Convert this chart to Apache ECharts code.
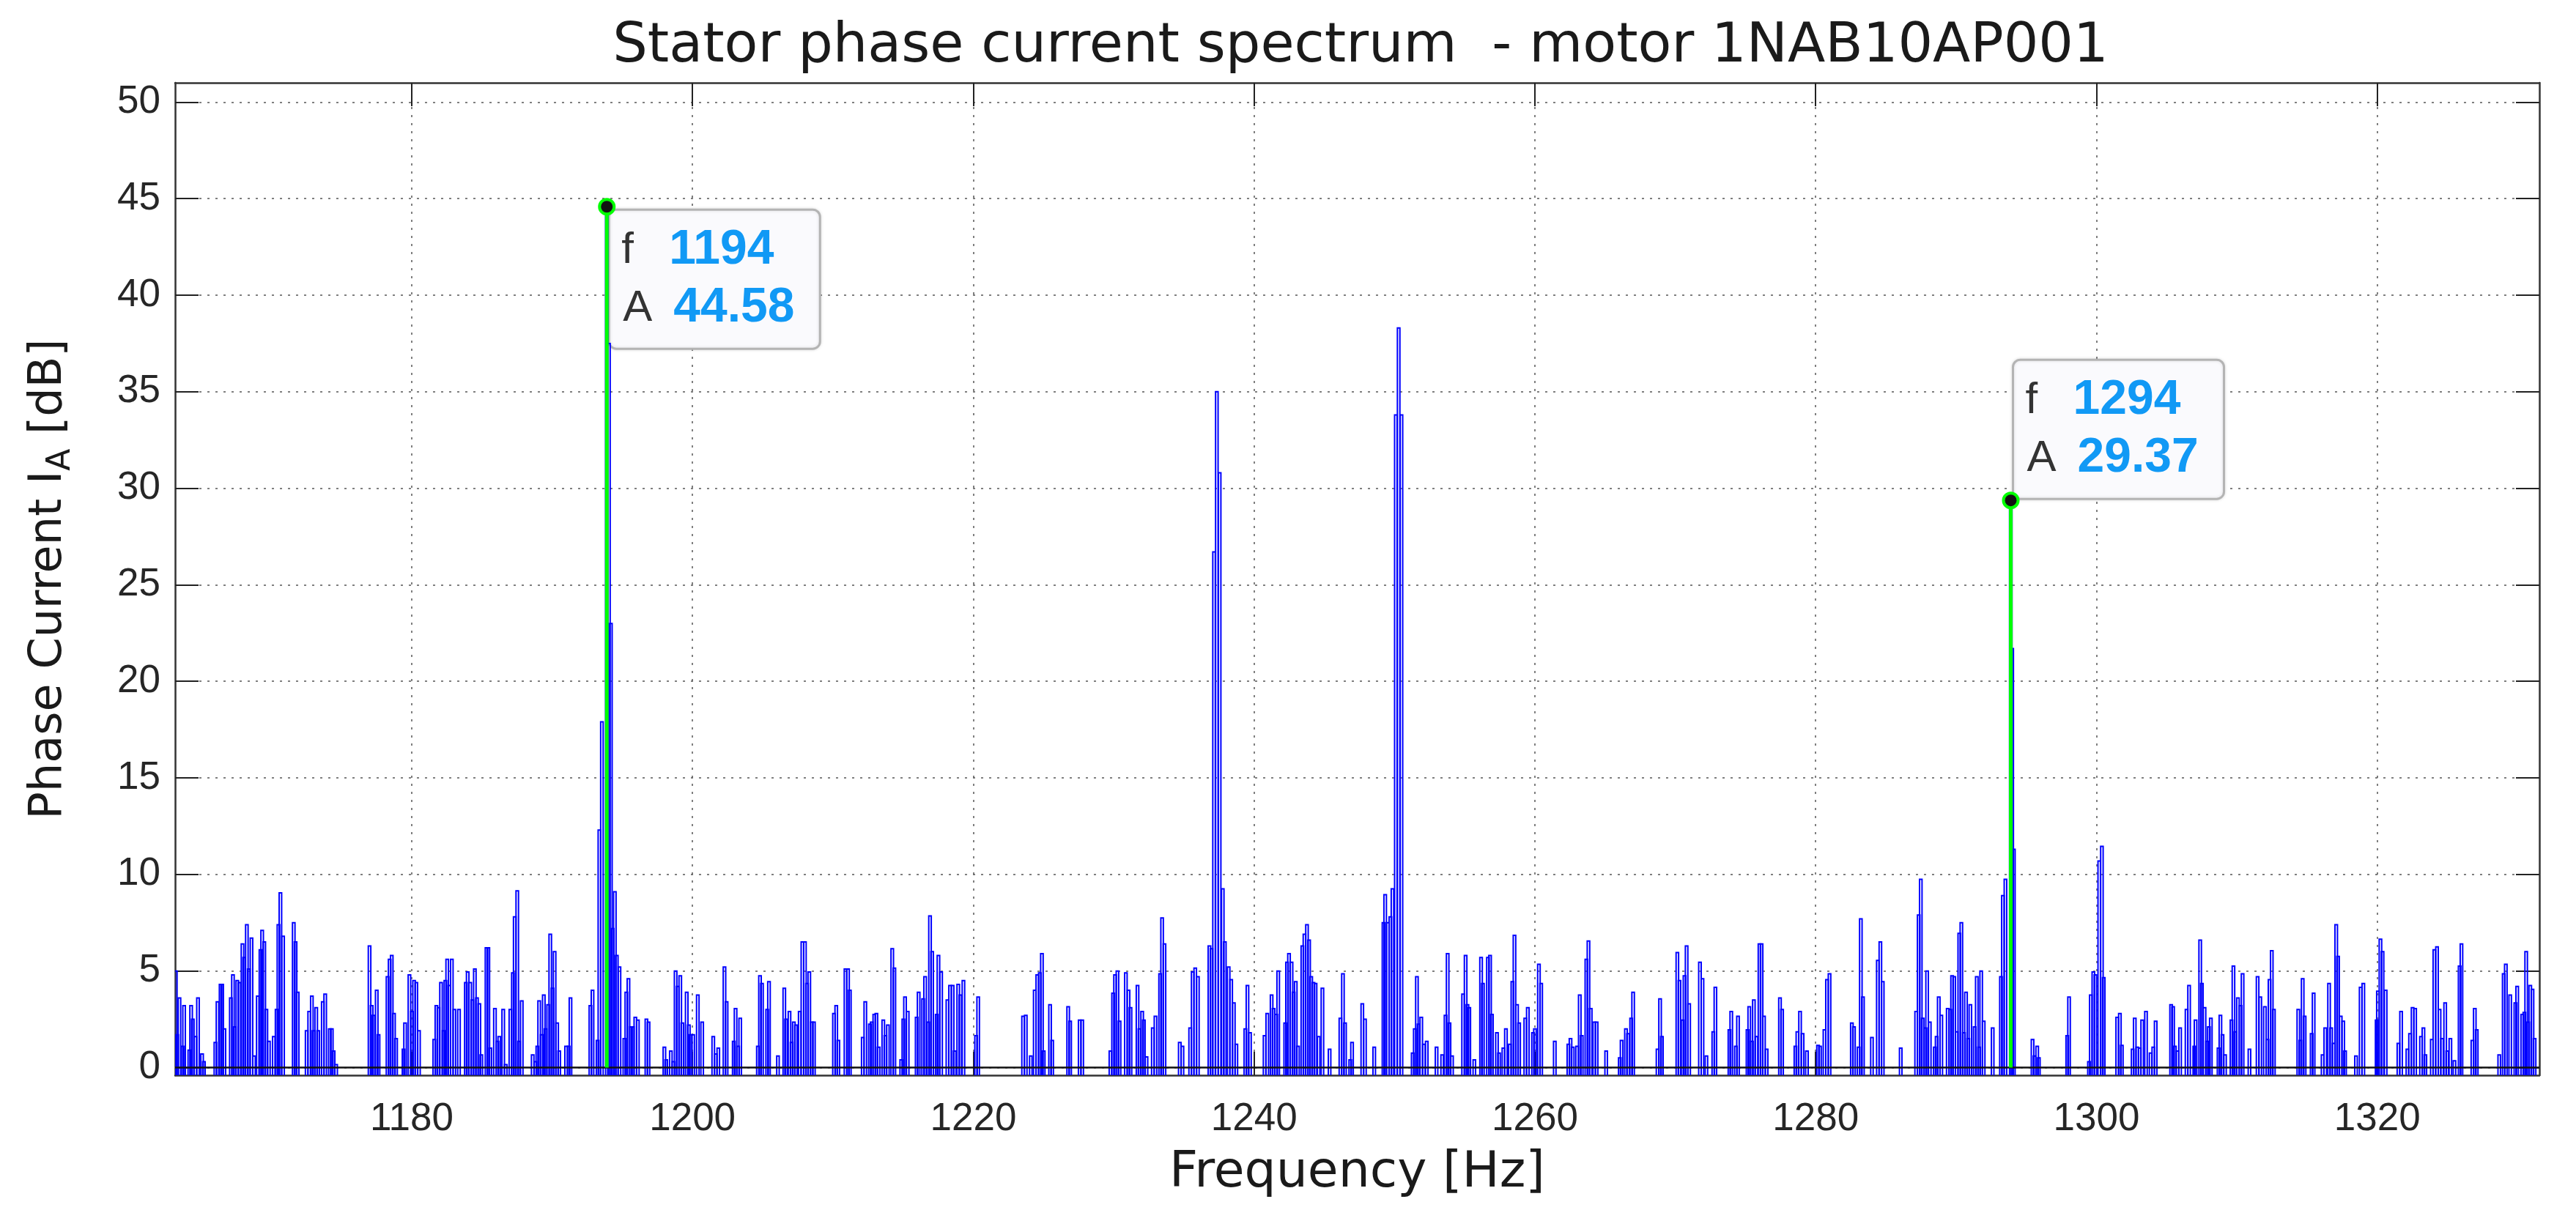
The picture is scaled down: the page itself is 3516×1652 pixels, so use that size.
<!DOCTYPE html>
<html>
<head>
<meta charset="utf-8">
<title>Stator phase current spectrum</title>
<script src="https://cdn.jsdelivr.net/npm/echarts@6.0.0/dist/echarts.min.js"></script>
<style>
  html, body { margin: 0; padding: 0; background: #fff; }
  #chart { width: 3516px; height: 1652px; }
</style>
</head>
<body>
<div id="chart"></div>
<script>
// spectrum lines, [Hz, dB], one band per ~28 Hz
var band1 = [
  [1163.2, 5.0], [1163.3, 1.7], [1163.46, 3.6], [1163.68, 1.1], [1163.79, 3.2], [1164.16, 0.9], [1164.29, 3.2],
  [1164.41, 2.5], [1164.6, 1.6], [1164.78, 3.6], [1165.07, 0.7], [1165.2, 0.3], [1166.02, 1.3], [1166.17, 3.4],
  [1166.39, 4.3], [1166.5, 4.3], [1166.66, 2.0], [1167.12, 3.6], [1167.27, 4.8], [1167.4, 2.1], [1167.58, 4.5],
  [1167.73, 4.4], [1167.95, 6.4], [1168.07, 5.7], [1168.26, 7.4], [1168.4, 5.1], [1168.59, 6.7], [1168.77, 0.6],
  [1169.04, 3.7], [1169.23, 6.1], [1169.35, 7.1], [1169.5, 6.5], [1169.65, 3.0], [1169.83, 1.35], [1170.18, 1.6],
  [1170.38, 3.0], [1170.51, 7.4], [1170.65, 9.05], [1170.84, 6.8], [1171.6, 7.5], [1171.73, 6.5], [1171.88, 3.9],
  [1172.52, 1.9], [1172.7, 2.9], [1172.89, 3.7], [1173.01, 1.9], [1173.2, 3.1], [1173.34, 1.9], [1173.67, 3.4],
  [1173.84, 3.8], [1174.17, 2.0], [1174.31, 2.0], [1174.44, 0.85], [1174.62, 0.15], [1177.0, 6.3], [1177.15, 3.2],
  [1177.28, 2.7], [1177.51, 4.0], [1177.64, 1.7], [1178.28, 4.7], [1178.43, 5.6], [1178.58, 5.8], [1178.74, 2.8],
  [1178.89, 1.5], [1179.42, 0.95], [1179.53, 2.3], [1179.84, 4.8], [1180.02, 2.9], [1180.17, 4.5], [1180.33, 4.4],
  [1180.52, 1.9], [1181.61, 1.45], [1181.76, 3.2], [1181.91, 3.1], [1182.09, 4.4], [1182.27, 1.9], [1182.4, 4.5],
  [1182.53, 5.6], [1182.68, 4.25], [1182.86, 5.6], [1183.04, 3.0], [1183.37, 3.0], [1183.86, 4.4], [1183.99, 4.95],
  [1184.17, 4.4], [1184.32, 3.5], [1184.5, 5.1], [1184.65, 3.6], [1184.82, 3.3], [1184.96, 0.65], [1185.33, 6.2],
  [1185.46, 6.2], [1185.6, 1.0], [1185.93, 3.05], [1186.11, 1.35], [1186.24, 1.6], [1186.52, 3.0], [1186.7, 0.15],
  [1187.03, 3.0], [1187.21, 4.9], [1187.34, 7.8], [1187.52, 9.15], [1187.65, 1.35], [1187.84, 3.45], [1188.62, 0.65],
  [1188.81, 0.3], [1188.95, 1.1], [1189.08, 3.45], [1189.26, 1.7], [1189.41, 3.75], [1189.54, 2.0], [1189.72, 3.25],
  [1189.87, 6.9], [1190.03, 4.1], [1190.18, 6.0], [1190.36, 2.3], [1190.51, 0.85], [1191.0, 1.1], [1191.18, 1.1],
  [1191.31, 3.6]
];
var band2 = [
  [1192.73, 3.2], [1192.88, 4.0], [1193.24, 1.4], [1193.37, 12.3], [1193.55, 17.9], [1193.9, 44.58], [1194.05, 37.5],
  [1194.19, 23.0], [1194.32, 7.2], [1194.47, 9.1], [1194.61, 5.8], [1194.8, 5.2], [1195.15, 1.5], [1195.29, 3.9],
  [1195.44, 4.6], [1195.62, 2.1], [1195.75, 2.1], [1195.93, 2.6], [1196.11, 2.45], [1196.72, 2.5], [1196.87, 2.35],
  [1198.0, 1.05], [1198.13, 0.4], [1198.46, 0.85], [1198.64, 0.3], [1198.8, 5.0], [1198.95, 4.2], [1199.13, 4.75],
  [1199.28, 2.3], [1199.59, 3.9], [1199.74, 2.2], [1199.87, 1.7], [1200.05, 1.7], [1200.38, 3.75], [1200.69, 2.35],
  [1201.48, 1.6], [1201.66, 0.7], [1201.84, 1.0], [1202.28, 5.2], [1202.43, 3.4], [1202.94, 1.35], [1203.07, 3.05],
  [1203.25, 1.1], [1203.4, 2.55], [1204.66, 1.1], [1204.81, 4.75], [1204.95, 4.35], [1205.32, 3.0], [1205.45, 4.45],
  [1206.09, 0.6], [1206.54, 4.1], [1206.67, 2.5], [1206.91, 2.9], [1207.06, 1.3], [1207.22, 2.35], [1207.37, 2.2],
  [1207.64, 2.9], [1207.83, 6.5], [1208.01, 6.5], [1208.16, 4.35], [1208.32, 4.95], [1208.5, 2.35], [1208.65, 2.35],
  [1210.08, 2.8], [1210.24, 3.2], [1210.39, 1.4], [1210.9, 5.1], [1211.08, 5.1], [1211.21, 4.0], [1212.13, 1.55],
  [1212.31, 3.4], [1212.64, 2.25], [1212.77, 2.35], [1212.95, 2.75], [1213.1, 2.8], [1213.26, 1.05], [1213.59, 2.45],
  [1213.74, 1.65], [1213.92, 2.2], [1214.23, 6.15], [1214.38, 5.15], [1214.87, 0.4], [1215.02, 2.5], [1215.14, 3.65],
  [1215.33, 2.9], [1215.97, 2.6], [1216.11, 3.9], [1216.43, 3.55], [1216.57, 4.7], [1216.79, 2.35], [1216.92, 7.85],
  [1217.07, 6.0], [1217.4, 2.75], [1217.52, 5.8], [1217.71, 4.95], [1218.16, 3.5], [1218.35, 4.25], [1218.53, 4.25],
  [1218.68, 0.85], [1218.93, 4.3], [1219.08, 3.75], [1219.3, 4.5]
];
var band3 = [
  [1220.2, 1.65], [1220.35, 3.65], [1223.55, 2.65], [1223.74, 2.7], [1224.1, 0.6], [1224.38, 4.0], [1224.56, 4.8],
  [1224.74, 4.9], [1224.89, 5.9], [1225.02, 0.85], [1225.47, 3.25], [1225.62, 1.4], [1226.76, 3.15], [1226.9, 2.4],
  [1227.58, 2.45], [1227.76, 2.45], [1229.77, 0.85], [1229.96, 3.85], [1230.1, 4.8], [1230.27, 5.0], [1230.42, 2.4],
  [1230.87, 4.9], [1231.06, 4.0], [1231.2, 3.1], [1231.7, 4.25], [1231.84, 2.0], [1232.03, 2.9], [1232.15, 2.45],
  [1232.34, 0.55], [1232.79, 2.05], [1232.98, 2.65], [1233.31, 4.85], [1233.45, 7.75], [1233.62, 6.4], [1234.71, 1.3],
  [1234.9, 1.1], [1235.45, 2.05], [1235.63, 4.95], [1235.81, 5.15], [1236.0, 4.7], [1236.82, 6.3], [1236.97, 6.15],
  [1237.15, 26.7], [1237.35, 35.0], [1237.55, 30.8], [1237.77, 9.25], [1237.92, 6.5], [1238.19, 5.2], [1238.37, 4.55],
  [1238.56, 3.35], [1238.74, 1.2], [1239.38, 2.0], [1239.53, 4.25], [1239.71, 1.8], [1240.75, 1.65], [1240.94, 2.8],
  [1241.25, 3.75], [1241.39, 3.05], [1241.58, 2.75], [1241.72, 5.0], [1242.22, 2.3], [1242.35, 5.45], [1242.49, 5.9],
  [1242.67, 5.45], [1242.82, 3.9], [1242.97, 4.45], [1243.13, 1.1], [1243.44, 6.3], [1243.59, 6.9], [1243.77, 7.4],
  [1243.92, 6.6], [1244.07, 4.7], [1244.23, 4.4], [1244.38, 4.35], [1244.6, 1.6], [1244.87, 4.1], [1245.38, 0.95],
  [1246.15, 2.55], [1246.33, 4.85], [1246.48, 2.3], [1246.85, 0.4], [1246.98, 1.3], [1247.71, 3.3]
];
var band4 = [
  [1247.9, 2.5], [1248.56, 1.05], [1249.22, 7.5], [1249.34, 8.95], [1249.53, 7.5], [1249.71, 7.8], [1249.86, 9.25],
  [1250.1, 33.8], [1250.3, 38.3], [1250.5, 33.8], [1251.3, 0.75], [1251.45, 2.0], [1251.6, 4.7], [1251.72, 2.25],
  [1251.91, 2.6], [1252.1, 1.2], [1252.3, 1.35], [1253.0, 1.05], [1253.4, 0.65], [1253.64, 2.7], [1253.79, 5.9],
  [1253.92, 2.3], [1254.1, 0.6], [1254.89, 3.8], [1255.07, 5.8], [1255.2, 3.25], [1255.33, 3.1], [1255.69, 0.4],
  [1256.17, 5.7], [1256.3, 4.35], [1256.66, 5.7], [1256.81, 5.8], [1256.94, 2.75], [1257.3, 1.8], [1257.45, 0.75],
  [1257.76, 1.0], [1257.94, 2.0], [1258.22, 1.2], [1258.4, 4.45], [1258.55, 6.85], [1258.73, 3.25], [1258.88, 2.3],
  [1259.32, 2.55], [1259.5, 3.1], [1259.87, 1.8], [1260.01, 2.0], [1260.29, 5.35], [1260.45, 4.35], [1261.42, 1.35],
  [1262.39, 1.2], [1262.54, 1.5], [1262.7, 1.05], [1263.01, 1.1], [1263.2, 3.75], [1263.34, 1.65], [1263.67, 5.6],
  [1263.82, 6.55], [1263.98, 3.05], [1264.23, 2.35], [1264.4, 2.35], [1265.08, 0.85], [1266.05, 0.5], [1266.18, 1.4],
  [1266.49, 2.0], [1266.64, 1.75], [1266.86, 2.55], [1267.0, 3.9], [1268.74, 0.95], [1268.92, 3.55], [1269.05, 1.6],
  [1270.15, 5.95], [1270.3, 4.5], [1270.52, 2.45], [1270.66, 4.75], [1270.81, 6.3], [1270.99, 3.3], [1271.76, 5.45],
  [1271.94, 4.6], [1272.22, 0.6], [1272.71, 1.85], [1272.86, 4.15], [1273.86, 1.95], [1273.99, 2.9], [1274.32, 1.1],
  [1274.47, 2.65], [1275.15, 1.95], [1275.27, 3.15], [1275.46, 1.35], [1275.6, 3.5], [1275.79, 1.6]
];
var band5 = [
  [1276.0, 6.4], [1276.15, 6.4], [1276.32, 2.65], [1276.51, 0.95], [1277.46, 3.6], [1277.61, 3.0], [1278.56, 1.1],
  [1278.7, 1.85], [1278.89, 2.9], [1279.07, 1.75], [1279.38, 0.85], [1280.17, 1.15], [1280.31, 1.1], [1280.63, 1.95],
  [1280.81, 4.55], [1280.99, 4.85], [1282.58, 2.3], [1282.73, 2.1], [1283.06, 1.05], [1283.22, 7.7], [1283.37, 3.65],
  [1284.01, 1.55], [1284.43, 5.55], [1284.61, 6.5], [1284.78, 4.45], [1286.06, 1.0], [1287.16, 2.9], [1287.34, 7.9],
  [1287.49, 9.75], [1287.63, 2.55], [1287.82, 2.05], [1287.94, 5.0], [1288.13, 2.35], [1288.49, 1.05], [1288.62, 1.6],
  [1288.77, 3.65], [1288.95, 2.7], [1289.41, 3.05], [1289.59, 3.0], [1289.72, 4.75], [1289.87, 4.7], [1290.05, 1.85],
  [1290.23, 6.95], [1290.38, 7.5], [1290.56, 1.8], [1290.71, 3.9], [1290.87, 1.5], [1291.02, 3.25], [1291.33, 2.1],
  [1291.48, 4.7], [1291.64, 1.05], [1291.79, 5.0], [1291.97, 2.4], [1292.61, 2.05], [1293.2, 4.7], [1293.34, 8.9],
  [1293.52, 9.75], [1293.9, 29.37], [1294.0, 21.7], [1294.12, 11.3], [1295.45, 1.45], [1295.59, 0.6], [1295.78, 1.1],
  [1295.9, 0.5], [1297.92, 1.65], [1298.05, 3.65], [1299.47, 0.3], [1299.6, 3.75], [1299.78, 4.95], [1299.93, 4.8],
  [1300.2, 10.7], [1300.39, 11.45], [1300.52, 4.65], [1301.48, 2.6], [1301.67, 2.8], [1301.81, 1.15], [1302.58, 0.95],
  [1302.73, 2.55], [1302.91, 1.05], [1303.08, 1.0], [1303.26, 2.45], [1303.53, 2.9], [1303.86, 0.75], [1304.05, 1.05]
];
var band6 = [
  [1304.22, 2.4], [1305.32, 3.25], [1305.46, 3.15], [1305.59, 1.1], [1305.78, 0.85], [1305.96, 2.05], [1306.42, 3.0],
  [1306.6, 4.25], [1306.97, 1.1], [1307.06, 2.45], [1307.39, 6.6], [1307.51, 4.35], [1307.7, 3.1], [1307.88, 1.35],
  [1308.01, 2.1], [1308.15, 2.55], [1308.7, 1.0], [1308.83, 2.7], [1308.98, 1.7], [1309.16, 0.65], [1309.62, 2.45],
  [1309.76, 5.25], [1309.89, 1.85], [1310.08, 3.6], [1310.26, 3.2], [1310.41, 4.85], [1310.9, 0.95], [1311.48, 4.7],
  [1311.67, 3.65], [1312.0, 3.15], [1312.18, 1.45], [1312.33, 4.55], [1312.49, 6.05], [1312.64, 3.0], [1314.38, 3.0],
  [1314.52, 1.4], [1314.69, 4.6], [1314.83, 2.65], [1315.33, 1.75], [1315.47, 3.85], [1316.11, 0.65], [1316.3, 2.05],
  [1316.57, 4.35], [1316.72, 2.05], [1316.9, 1.25], [1317.08, 7.4], [1317.21, 5.75], [1317.4, 2.65], [1317.58, 2.4],
  [1317.71, 0.85], [1318.49, 0.6], [1318.82, 4.15], [1319.01, 4.35], [1319.96, 2.45], [1320.05, 3.95], [1320.23, 6.65],
  [1320.38, 6.0], [1320.6, 4.0], [1321.51, 1.25], [1321.7, 2.9], [1322.15, 0.95], [1322.34, 1.75], [1322.52, 3.1],
  [1322.7, 3.05], [1323.12, 1.6], [1323.29, 2.05], [1323.43, 0.65], [1323.89, 1.45], [1324.07, 6.1], [1324.26, 6.25],
  [1324.44, 3.0], [1324.62, 1.5], [1324.84, 3.35], [1324.99, 0.85], [1325.21, 1.5], [1325.5, 0.35], [1325.87, 5.25],
  [1326.0, 6.4], [1326.78, 1.4], [1326.95, 3.05], [1327.09, 1.95], [1328.69, 0.65], [1329.01, 4.85], [1329.16, 5.35],
  [1329.47, 3.75], [1329.84, 3.35], [1329.97, 4.2], [1330.33, 2.75], [1330.48, 2.85], [1330.61, 6.0], [1330.75, 2.35],
  [1330.9, 4.25], [1331.06, 4.05], [1331.21, 1.5]
];

// data cursors
var tipHz = [1193.9, 1293.9];
var tipDb = [44.58, 29.37];
var tipLabelHz = ['1194', '1294'];
var tipLabelDb = ['44.58', '29.37'];

var xTicks = [1180, 1200, 1220, 1240, 1260, 1280, 1300, 1320];
var yTicks = [0, 5, 10, 15, 20, 25, 30, 35, 40, 45, 50];

var xMin = 1163.15, xMax = 1331.55;
var yMin = -0.4, yMax = 51;

var spikes = band1.concat(band2, band3, band4, band5, band6);

var chart = echarts.init(document.getElementById('chart'));

function drawSpike(params, api) {
  var top = api.coord([api.value(0), api.value(1)]);
  var foot = api.coord([api.value(0), yMin]);
  var half = 1.7;
  return {
    type: 'polyline',
    shape: {
      points: [[top[0] - half, foot[1]], [top[0] - half, top[1]], [top[0] + half, top[1]], [top[0] + half, foot[1]]]
    },
    style: { stroke: '#0000ff', lineWidth: 2, fill: 'none' }
  };
}

function plainNumber(v) {
  return String(v);
}

var gridDots = { color: '#555', width: 1.5, type: [3, 8] };
var tickStyle = { inside: true, length: 32, lineStyle: { color: '#222', width: 2 } };
var axisLineStyle = { show: true, onZero: false, lineStyle: { color: '#333', width: 2.5 } };
var fontTitle = 'DejaVu Sans';

var stems = tipHz.map(function (f, i) {
  var s = {
    type: 'line',
    z: 5,
    silent: true,
    data: [{ value: [f, 0], symbol: 'none' }, { value: [f, tipDb[i]] }],
    symbol: 'circle',
    symbolSize: 20,
    showSymbol: true,
    lineStyle: { color: '#00ff00', width: 5 },
    itemStyle: { color: '#111', borderColor: '#00ff00', borderWidth: 4 }
  };
  if (i === 0) {
    // zero line of the spectrum
    s.markLine = {
      silent: true,
      symbol: 'none',
      label: { show: false },
      lineStyle: { color: '#111', width: 2.5, type: 'solid' },
      data: [{ yAxis: 0 }]
    };
  }
  return s;
});

var option = {
  animation: false,
  backgroundColor: '#fff',
  title: {
    text: 'Stator phase current spectrum  - motor 1NAB10AP001',
    left: 1852,
    top: 22,
    textAlign: 'center',
    textStyle: { fontFamily: fontTitle, fontSize: 75, fontWeight: 'normal', color: '#1a1a1a' }
  },
  grid: { left: 239, right: 50, top: 113, bottom: 184, outerBoundsMode: 'none' },
  xAxis: [{
    type: 'value',
    min: xMin,
    max: xMax,
    name: 'Frequency [Hz]',
    nameLocation: 'middle',
    nameGap: 100,
    nameTextStyle: { fontFamily: fontTitle, fontSize: 68, color: '#1a1a1a' },
    axisLine: axisLineStyle,
    axisTick: Object.assign({ customValues: xTicks }, tickStyle),
    axisLabel: { customValues: xTicks, formatter: plainNumber, margin: 34, fontFamily: 'Liberation Sans', fontSize: 53, color: '#262626' },
    splitLine: { show: true, lineStyle: gridDots }
  }, {
    type: 'value',
    position: 'top',
    min: xMin,
    max: xMax,
    axisLine: axisLineStyle,
    axisTick: Object.assign({ customValues: xTicks }, tickStyle),
    axisLabel: { show: false, customValues: xTicks },
    splitLine: { show: false }
  }],
  yAxis: [{
    type: 'value',
    min: yMin,
    max: yMax,
    name: '{n|Phase Current I}{s|A}{n| [dB]}',
    nameLocation: 'middle',
    nameGap: 133,
    nameTextStyle: {
      fontFamily: fontTitle,
      color: '#1a1a1a',
      rich: {
        n: { fontFamily: fontTitle, fontSize: 62, lineHeight: 70, verticalAlign: 'top', color: '#1a1a1a' },
        s: { fontFamily: fontTitle, fontSize: 44, lineHeight: 50, padding: [30, 0, 0, 0], verticalAlign: 'bottom', color: '#1a1a1a' }
      }
    },
    axisLine: axisLineStyle,
    axisTick: Object.assign({ customValues: yTicks }, tickStyle),
    axisLabel: { customValues: yTicks, formatter: plainNumber, margin: 20, fontFamily: 'Liberation Sans', fontSize: 53, color: '#262626' },
    splitLine: { show: true, lineStyle: gridDots }
  }, {
    type: 'value',
    position: 'right',
    min: yMin,
    max: yMax,
    axisLine: axisLineStyle,
    axisTick: Object.assign({ customValues: yTicks }, tickStyle),
    axisLabel: { show: false, customValues: yTicks },
    splitLine: { show: false }
  }],
  series: [{
    type: 'custom',
    z: 2,
    silent: true,
    clip: true,
    renderItem: drawSpike,
    encode: { x: 0, y: 1 },
    data: spikes
  }].concat(stems)
};

chart.setOption(option);

// data tip boxes, placed from the cursor points
function makeTip(f, i) {
  var p = chart.convertToPixel({ gridIndex: 0 }, [f, tipDb[i]]);
  var w = 288, h = 190;
  var boxY = i === 0 ? p[1] + 4 : p[1] - 2 - h;
  var keyFont = '60px "Liberation Sans"';
  var valFont = 'bold 66px "Liberation Sans"';
  return {
    type: 'group',
    x: p[0] + 3,
    y: boxY,
    z: 100,
    silent: true,
    children: [
      {
        type: 'rect',
        shape: { x: 0, y: 0, width: w, height: h, r: 10 },
        style: { fill: '#fafafd', stroke: '#b4b4b4', lineWidth: 3, shadowBlur: 4, shadowColor: 'rgba(0,0,0,0.12)' }
      },
      { type: 'text', x: 17, y: 56, style: { text: 'f', font: keyFont, fill: '#333', textAlign: 'left', textVerticalAlign: 'middle', align: 'left', verticalAlign: 'middle' } },
      { type: 'text', x: 82, y: 56, style: { text: tipLabelHz[i], font: valFont, fill: '#1199f5', textAlign: 'left', textVerticalAlign: 'middle', align: 'left', verticalAlign: 'middle' } },
      { type: 'text', x: 19, y: 135, style: { text: 'A', font: keyFont, fill: '#333', textAlign: 'left', textVerticalAlign: 'middle', align: 'left', verticalAlign: 'middle' } },
      { type: 'text', x: 88, y: 135, style: { text: tipLabelDb[i], font: valFont, fill: '#1199f5', textAlign: 'left', textVerticalAlign: 'middle', align: 'left', verticalAlign: 'middle' } }
    ]
  };
}

chart.setOption({ graphic: tipHz.map(makeTip) });
</script>
</body>
</html>
